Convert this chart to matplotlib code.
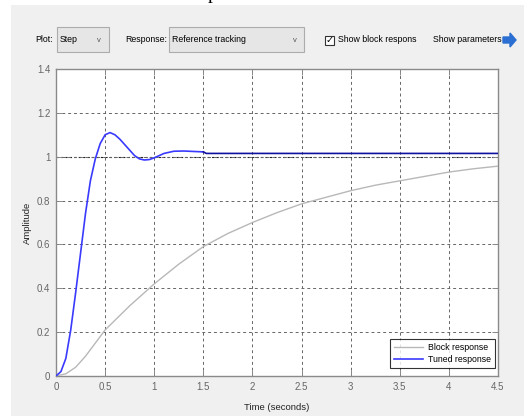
import matplotlib
matplotlib.use("Agg")
import matplotlib.pyplot as plt
from matplotlib.patches import Rectangle, FancyArrow

# ---- data ----
block_t = [0, 0.1, 0.2, 0.3, 0.4, 0.5, 0.75, 1.0, 1.25, 1.5, 1.75, 2.0, 2.25, 2.5,
           2.75, 3.0, 3.25, 3.5, 3.75, 4.0, 4.25, 4.5]
block_y = [0, 0.01, 0.04, 0.09, 0.15, 0.21, 0.32, 0.42, 0.51, 0.59, 0.65, 0.70, 0.745,
           0.785, 0.815, 0.845, 0.87, 0.89, 0.91, 0.93, 0.945, 0.957]

tuned_t = [0, 0.05, 0.1, 0.15, 0.2, 0.25, 0.3, 0.35, 0.4, 0.45, 0.5, 0.55, 0.6, 0.65,
           0.7, 0.75, 0.8, 0.85, 0.9, 0.95, 1.0, 1.1, 1.2, 1.3, 1.4, 1.5]
tuned_y = [0, 0.02, 0.08, 0.21, 0.38, 0.56, 0.74, 0.89, 0.99, 1.06, 1.10, 1.11, 1.10,
           1.08, 1.055, 1.03, 1.005, 0.99, 0.985, 0.987, 0.995, 1.015, 1.025, 1.026,
           1.024, 1.022]
tuned_tail_t = [1.5, 1.53, 4.5]
tuned_tail_y = [1.022, 1.015, 1.015]

xticks = [0, 0.5, 1, 1.5, 2, 2.5, 3, 3.5, 4, 4.5]
xtick_labels = ["0", "0.5", "1", "1.5", "2", "2.5", "3", "3.5", "4", "4.5"]
yticks = [0, 0.2, 0.4, 0.6, 0.8, 1, 1.2, 1.4]
ytick_labels = ["0", "0.2", "0.4", "0.6", "0.8", "1", "1.2", "1.4"]

W, H = 524, 416
fig = plt.figure(figsize=(W / 100, H / 100), dpi=100, facecolor="white")

def fx(px):
    return px / W

def fy(py):
    return 1 - py / H

ui_font = ["Liberation Sans", "DejaVu Sans"]
ui_size = 6.3

# grey panel
fig.patches.append(Rectangle((fx(11), 0), 1 - fx(11), fy(5), transform=fig.transFigure,
                             facecolor="#f0f0f0", edgecolor="none", zorder=-10))
# cropped glyph at top
fig.text(fx(208), fy(-1), "p", fontsize=14, family="Liberation Serif",
         va="baseline", ha="left", color="black")

# toolbar
fig.text(fx(35), fy(40), "Plot:", fontsize=ui_size, family=ui_font, va="center", ha="left")
fig.patches.append(Rectangle((fx(57), fy(52)), fx(109) - fx(57), fy(27) - fy(52),
                             transform=fig.transFigure, facecolor="#e6e6e6",
                             edgecolor="#acacac", lw=0.8, zorder=-5))
fig.text(fx(60), fy(40), "Step", fontsize=ui_size, family=ui_font, va="center", ha="left")
fig.text(fx(99), fy(40), "v", fontsize=5.5, family=ui_font, va="center", ha="center",
         color="#555555")
fig.text(fx(125), fy(40), "Response:", fontsize=ui_size, family=ui_font, va="center",
         ha="left")
fig.patches.append(Rectangle((fx(169), fy(52)), fx(304) - fx(169), fy(27) - fy(52),
                             transform=fig.transFigure, facecolor="#e6e6e6",
                             edgecolor="#acacac", lw=0.8, zorder=-5))
fig.text(fx(172), fy(40), "Reference tracking", fontsize=ui_size, family=ui_font,
         va="center", ha="left")
fig.text(fx(295), fy(40), "v", fontsize=5.5, family=ui_font, va="center", ha="center",
         color="#555555")
fig.patches.append(Rectangle((fx(325), fy(45)), fx(334) - fx(325), fy(36) - fy(45),
                             transform=fig.transFigure, facecolor="white",
                             edgecolor="#333333", lw=0.8, zorder=-5))
fig.text(fx(329.5), fy(40.5), "✓", fontsize=7, family="DejaVu Sans", va="center",
         ha="center", color="black")
fig.text(fx(338), fy(40), "Show block respons", fontsize=ui_size, family=ui_font,
         va="center", ha="left")
fig.text(fx(433), fy(40), "Show parameters", fontsize=ui_size, family=ui_font,
         va="center", ha="left")
fig.patches.append(FancyArrow(fx(503), fy(40), fx(13), 0, width=fy(37) - fy(43),
                              head_width=fy(33) - fy(47), head_length=fx(6),
                              length_includes_head=True, transform=fig.transFigure,
                              color="#2a6fd1", zorder=-5))

# axes
ax = fig.add_axes([fx(56), fy(376), fx(498) - fx(56), fy(69) - fy(376)])
ax.set_zorder(5)
ax.set_facecolor("white")
ax.set_xlim(0, 4.5)
ax.set_ylim(0, 1.4)
ax.set_xticks(xticks)
ax.set_xticklabels(xtick_labels, family=ui_font)
ax.set_yticks(yticks)
ax.set_yticklabels(ytick_labels, family=ui_font)
ax.tick_params(direction="in", top=True, right=True, length=4, width=0.7,
               colors="#888888", labelcolor="#666666", labelsize=7, pad=4)
for s in ax.spines.values():
    s.set_color("#8a8a8a")
    s.set_linewidth(1.0)
ax.grid(True, color="#666666", linestyle=(0, (3, 3)), linewidth=0.7)
ax.axhline(1.0, color="#222222", linestyle=(0, (2, 2)), linewidth=0.8, zorder=1.5)

ax.plot(block_t, block_y, color="#b8b8b8", lw=1.0, label="Block response", zorder=3)
ax.plot(tuned_t, tuned_y, color="#3a3aff", lw=1.2, label="Tuned response", zorder=4)
ax.plot(tuned_tail_t, tuned_tail_y, color="#1010a0", lw=1.2, zorder=4)

ax.set_xlabel("Time (seconds)", fontsize=6.8, color="#222222", family=ui_font)
ax.set_ylabel("Amplitude", fontsize=6.8, color="#222222", family=ui_font)
ax.xaxis.set_label_coords((277 - 56) / 442, (376 - 403) / 307)
ax.yaxis.set_label_coords((32 - 56) / 442, 0.5)

leg = ax.legend(loc="lower right", bbox_to_anchor=(0.993, 0.026), borderaxespad=0,
                prop={"family": ui_font, "size": 6.3}, frameon=True, fancybox=False,
                edgecolor="black", handlelength=3.3, handletextpad=0.6,
                borderpad=0.45, labelspacing=0.35)
leg.get_frame().set_linewidth(0.8)

fig.savefig("out.png", dpi=100, facecolor="white")
